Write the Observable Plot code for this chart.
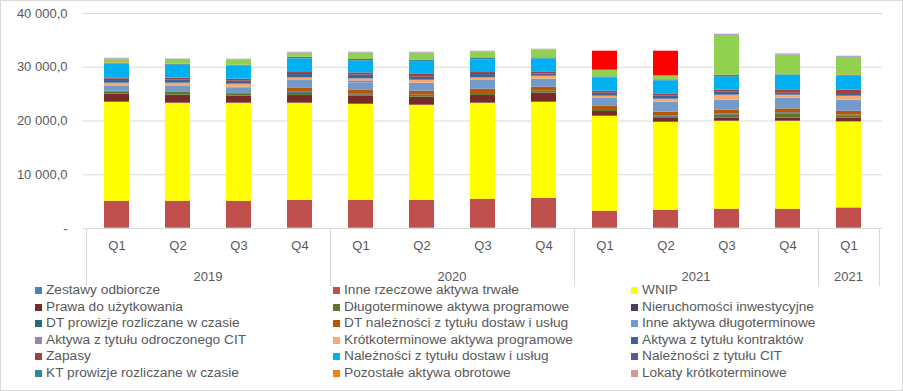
<!DOCTYPE html>
<html>
<head>
<meta charset="utf-8">
<script src="https://cdn.jsdelivr.net/npm/d3@7"></script>
<script src="https://cdn.jsdelivr.net/npm/@observablehq/plot@0.6"></script>
<style>
  html, body { margin: 0; padding: 0; background: #fff; }
  #wrap { position: relative; width: 903px; height: 391px; overflow: hidden; font-family: "Liberation Sans", Arial, sans-serif; }
  #frame { position: absolute; left: 0; top: 0; width: 903px; height: 391px; box-sizing: border-box; border: 1px solid #d9d9d9; pointer-events: none; }
  #legend { position: absolute; left: 0; top: 282px; width: 903px; }
  .row { position: absolute; height: 16.6px; line-height: 16.6px; font-size: 13.7px; color: #595959; white-space: nowrap; }
  .sw { display: inline-block; width: 7px; height: 7px; margin-right: 4px; vertical-align: 0px; }
</style>
</head>
<body>
<div id="wrap"><div id="chart"></div><div id="legend"></div><div id="frame"></div></div>
<script>
// Categories
const quarters = ["Q1","Q2","Q3","Q4","Q1","Q2","Q3","Q4","Q1","Q2","Q3","Q4","Q1"];
const groupIds = [0,0,0,0,1,1,1,1,2,2,2,2,3];
const groupLabels = ["2019","2020","2021","2021"];
const keys = quarters.map((q, i) => `${groupIds[i]}-${q}`);

// Series (bottom to top)
const seriesNames = [
  "Zestawy odbiorcze",
  "Inne rzeczowe aktywa trwałe",
  "WNIP",
  "Prawa do użytkowania",
  "Długoterminowe aktywa programowe",
  "Nieruchomości inwestycyjne",
  "DT prowizje rozliczane w czasie",
  "DT należności z tytułu dostaw i usług",
  "Inne aktywa długoterminowe",
  "Aktywa z tytułu odroczonego CIT",
  "Krótkoterminowe aktywa programowe",
  "Aktywa z tytułu kontraktów",
  "Zapasy",
  "Należności z tytułu dostaw i usług",
  "Należności z tytułu CIT",
  "KT prowizje rozliczane w czasie",
  "Pozostałe aktywa obrotowe",
  "Lokaty krótkoterminowe",
  "Środki pieniężne i ich ekwiwalenty",
  "Aktywa przeznaczone do sprzedaży",
  "Pozostałe aktywa"
];
const legendCount = 18;
const seriesColors = [
  "#4F81BD","#C0504D","#FFFF00","#772C2A","#5F7530","#4D3B62","#276A7C","#B65708",
  "#729ACA","#9983B5","#FAA96E","#3C6497","#A2403D","#00B0F0","#68548D","#31859C",
  "#F4801A","#D99694","#92D050","#FF0000","#B3A2C7"
];

const zestawy      = [80,80,80,80,80,80,80,80,80,80,80,80,80];
const inneRzecz    = [4999,4999,4999,5185,5185,5185,5371,5557,3139,3325,3511,3511,3758];
const wnip         = [18419,18233,18233,18047,17861,17675,17861,17861,17674,16372,16372,16372,16001];
const prawa        = [1488,1488,1302,1426,1550,1488,1426,1674,869,806,558,558,682];
const dtProg       = [434,559,372,372,186,310,186,310,186,37,558,807,434];
const nieruch      = [30,21,24,30,128,22,26,18,22,120,61,32,25];
const dtProw       = [95,60,224,280,120,40,160,40,164,153,125,154,99];
const dtNal        = [0,0,0,745,682,745,807,749,676,744,744,744,745];
const inneDl       = [874,972,931,1364,1303,1488,1612,1488,1370,1861,1861,1984,2046];
const citOdr       = [0,0,124,0,372,0,0,0,0,0,0,0,0];
const ktProg       = [614,621,558,495,372,558,495,558,434,558,930,558,744];
const kontrakty    = [744,558,558,621,744,558,621,434,558,620,559,372,496];
const zapasy       = [247,372,372,372,372,620,372,372,373,372,372,621,621];
const nalDost      = [2481,2418,2480,2543,2233,2170,2357,2419,2479,2419,2418,2666,2604];
const nalCit       = [0,0,0,0,248,0,0,0,0,0,0,0,0];
const ktProw       = [125,186,124,310,0,373,372,186,186,186,372,124,124];
const pozostObr    = [186,0,0,0,0,0,0,0,0,0,0,0,124];
const lokaty       = [0,0,0,0,0,0,0,0,0,0,0,0,0];
const srodki       = [682,869,931,744,1178,1302,1054,1426,1241,744,7380,3659,3225];
const doSprzedazy  = [0,0,0,0,0,0,0,0,3535,4589,0,0,0];
const pozostale    = [186,94,186,186,186,186,186,186,0,0,248,248,248];

const seriesValues = [zestawy,inneRzecz,wnip,prawa,dtProg,nieruch,dtProw,dtNal,inneDl,citOdr,
  ktProg,kontrakty,zapasy,nalDost,nalCit,ktProw,pozostObr,lokaty,srodki,doSprzedazy,pozostale];

const yTicks = [0,10000,20000,30000,40000];

const rows = seriesNames.flatMap((s, i) => keys.map((k, j) => ({key: k, series: s, value: seriesValues[i][j]})));

const loc = d3.formatLocale({decimal: ",", thousands: "\u00a0", grouping: [3], currency: ["", ""]});
const fmt = loc.format(",.1f");

const W = 903, H = 286;
const plot = Plot.plot({
  width: W, height: H,
  marginTop: 13, marginBottom: 58, marginLeft: 83, marginRight: 21,
  style: {fontFamily: "'Liberation Sans', Arial, sans-serif", fontSize: "13px", color: "#595959", background: "white", overflow: "visible"},
  x: {domain: keys, paddingInner: 0.59, paddingOuter: 0.295},
  y: {domain: [0, 40000]},
  color: {domain: seriesNames, range: seriesColors},
  marks: [
    Plot.gridY(yTicks.filter(d => d > 0), {stroke: "#d9d9d9", strokeOpacity: 1}),
    Plot.barY(rows, {x: "key", y: "value", fill: "series"}),
    Plot.ruleY([0], {stroke: "#d9d9d9", strokeOpacity: 1}),
    Plot.axisY({ticks: yTicks, tickSize: 0, tickPadding: 16, tickFormat: d => d === 0 ? "-" : fmt(d), label: null, fill: "#595959"}),
    Plot.axisX({tickSize: 0, tickPadding: 12, tickFormat: k => k.split("-")[1], label: null, fill: "#595959"})
  ]
});
document.getElementById("chart").appendChild(plot);

// Group separators and year labels from the Plot scales
const xs = plot.scale("x"), ys = plot.scale("y");
const gap = (xs.step - xs.bandwidth) / 2;
const svg = d3.select(plot);
const y0 = ys.apply(0);
const groups = d3.groups(keys.map((k, i) => ({k, g: groupIds[i]})), d => d.g);
const bounds = [];
groups.forEach(([g, items]) => {
  const start = xs.apply(items[0].k) - gap;
  const end = xs.apply(items[items.length - 1].k) + xs.bandwidth + gap;
  bounds.push(start, end);
  svg.append("text").attr("x", (start + end) / 2).attr("y", 276).attr("dy", "0.35em")
    .attr("text-anchor", "middle").attr("fill", "#595959").attr("font-size", 13).text(groupLabels[g]);
});
Array.from(new Set(bounds.map(b => Math.round(b * 2) / 2))).forEach(b => {
  svg.append("line").attr("x1", Math.round(b) + 0.5).attr("x2", Math.round(b) + 0.5)
    .attr("y1", y0).attr("y2", H).attr("stroke", "#d9d9d9");
});

// Legend (3 columns)
const legend = document.getElementById("legend");
const colX = [35, 333, 631];
seriesNames.slice(0, legendCount).forEach((s, i) => {
  const r = Math.floor(i / 3), c = i % 3;
  const d = document.createElement("div");
  d.className = "row";
  d.style.left = colX[c] + "px";
  d.style.top = (r * 16.6) + "px";
  d.innerHTML = `<span class="sw" style="background:${seriesColors[i]}"></span>${s}`;
  legend.appendChild(d);
});
</script>
</body>
</html>
